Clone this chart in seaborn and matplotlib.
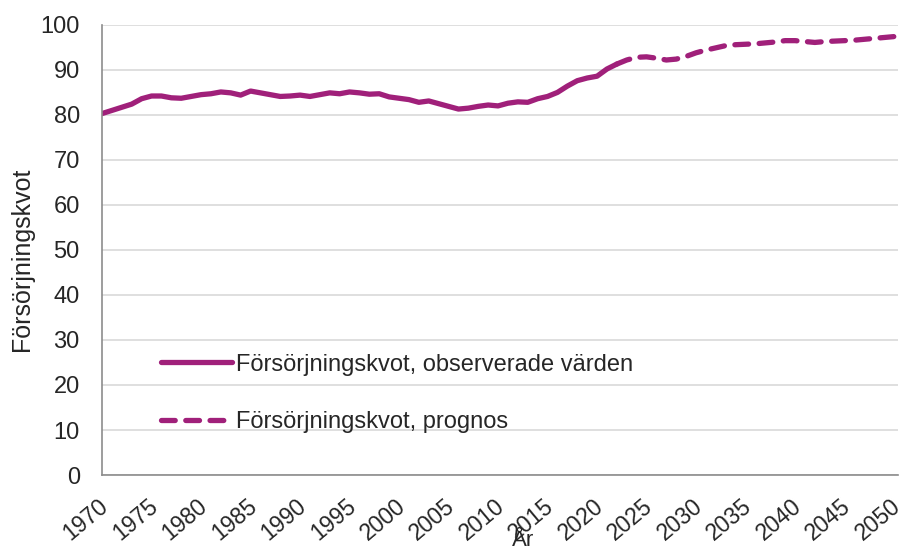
import numpy as np
import pandas as pd
import seaborn as sns
import matplotlib.pyplot as plt
import matplotlib.transforms as mtransforms

# --- Data ---
obs_years = list(range(1970, 2023))
obs_values = [80.3, 81.0, 81.7, 82.4, 83.6, 84.2, 84.2, 83.8, 83.7, 84.1,
              84.5, 84.7, 85.1, 84.9, 84.4, 85.3, 84.9, 84.5, 84.1, 84.2,
              84.4, 84.1, 84.5, 84.9, 84.7, 85.1, 84.9, 84.6, 84.7, 84.0,
              83.7, 83.4, 82.8, 83.1, 82.5, 81.9, 81.3, 81.5, 81.9, 82.2,
              82.0, 82.6, 82.9, 82.8, 83.6, 84.1, 85.0, 86.4, 87.6, 88.2,
              88.6, 90.2, 91.3]

prog_years = list(range(2022, 2051))
prog_values = [91.3, 92.2, 92.8, 92.9, 92.6, 92.2, 92.4, 93.0, 93.8, 94.4,
               94.9, 95.4, 95.6, 95.7, 95.8, 96.0, 96.2, 96.5, 96.5, 96.3,
               96.1, 96.3, 96.4, 96.5, 96.6, 96.8, 97.0, 97.2, 97.4]

x_ticks = list(range(1970, 2051, 5))
y_ticks = list(range(0, 101, 10))

label_obs = "Försörjningskvot, observerade värden"
label_prog = "Försörjningskvot, prognos"

COLOR = "#A0207A"
TEXT = "#262626"

sns.set_style("white")
plt.rcParams["font.family"] = ["Liberation Sans", "DejaVu Sans"]

df_obs = pd.DataFrame({"year": obs_years, "value": obs_values})
df_prog = pd.DataFrame({"year": prog_years, "value": prog_values})

fig = plt.figure(figsize=(9.03, 5.53), dpi=100)
ax = fig.add_axes([0.113, 0.141, 0.8815, 0.814])

sns.lineplot(data=df_obs, x="year", y="value", ax=ax, color=COLOR,
             linewidth=3.8, label=label_obs, solid_capstyle="round")
sns.lineplot(data=df_prog, x="year", y="value", ax=ax, color=COLOR,
             linewidth=3.8, label=label_prog)
ax.lines[1].set_dashes([2.6, 2.0])
ax.lines[1].set_dash_capstyle("round")

ax.set_xlim(1970, 2050.4)
ax.set_ylim(0, 100)
ax.set_xticks(x_ticks)
ax.set_yticks(y_ticks)
ax.yaxis.grid(True, color="#D9D9D9", linewidth=1.2)
ax.set_axisbelow(True)

for side in ["top", "right"]:
    ax.spines[side].set_visible(False)
for side in ["left", "bottom"]:
    ax.spines[side].set_color("#8C8C8C")
    ax.spines[side].set_linewidth(1.2)

ax.tick_params(axis="both", which="major", direction="out", length=5,
               width=1.0, color="#8C8C8C", labelcolor=TEXT)
ax.tick_params(axis="y", pad=11, labelsize=17)
ax.tick_params(axis="x", pad=9, labelsize=16.5)
plt.setp(ax.get_xticklabels(), rotation=40, ha="right",
         rotation_mode="anchor")
# nudge the year labels a little left so "2050" stays inside the figure
nudge = mtransforms.ScaledTranslation(-3 / 72, 0, fig.dpi_scale_trans)
for lbl in ax.get_xticklabels():
    lbl.set_transform(lbl.get_transform() + nudge)

ax.set_ylabel("Försörjningskvot", fontsize=18, color=TEXT)
ax.yaxis.set_label_coords(-0.086, 0.48)
ax.set_xlabel("År", fontsize=16, color=TEXT)
ax.xaxis.set_label_coords(0.529, -0.122)

leg = ax.legend(loc="upper left", bbox_to_anchor=(0.047, 0.317), frameon=False,
                fontsize=17, handlelength=3.0, handletextpad=0.2,
                labelspacing=1.5, labelcolor=TEXT)

fig.savefig("out.png", dpi=100)
